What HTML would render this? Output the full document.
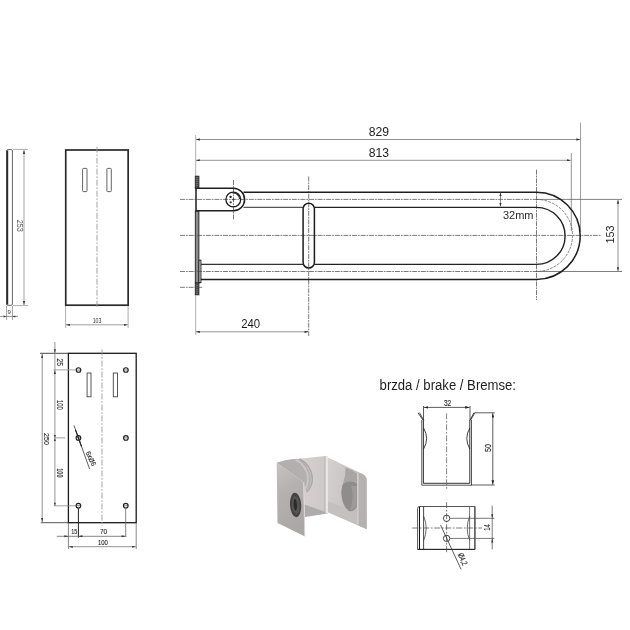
<!DOCTYPE html>
<html><head><meta charset="utf-8">
<style>
html,body{margin:0;padding:0;background:#fff;}
svg{display:block;will-change:transform;}
text{font-family:"Liberation Sans",sans-serif;}
.s{fill:#262626;stroke:#262626;stroke-width:0.12;}
</style></head>
<body>
<svg width="630" height="630" viewBox="0 0 630 630">
<defs>
<marker id="ar" viewBox="0 0 10 6" refX="10" refY="3" markerWidth="4.2" markerHeight="2.3" orient="auto-start-reverse" markerUnits="userSpaceOnUse">
<path d="M0,0 L10,3 L0,6 z" fill="#333"/>
</marker>
<marker id="as" viewBox="0 0 10 6" refX="10" refY="3" markerWidth="4" markerHeight="2.4" orient="auto-start-reverse" markerUnits="userSpaceOnUse">
<path d="M0,0 L10,3 L0,6 z" fill="#444"/>
</marker>
<marker id="ab" viewBox="0 0 10 6" refX="10" refY="3" markerWidth="4.5" markerHeight="2.6" orient="auto-start-reverse" markerUnits="userSpaceOnUse">
<path d="M0,0 L10,3 L0,6 z" fill="#222"/>
</marker>
</defs>
<rect width="630" height="630" fill="#fff"/>

<!-- ============ SIDE VIEW (thin) ============ -->
<g>
<rect x="6.6" y="149.6" width="5.8" height="155.7" rx="1.2" fill="none" stroke="#666" stroke-width="1"/>
<line x1="7.3" y1="150.5" x2="7.3" y2="304.5" stroke="#2a2a2a" stroke-width="1.8"/>
<line x1="13" y1="149.4" x2="28" y2="149.4" stroke="#999" stroke-width="0.8"/>
<line x1="13" y1="305.6" x2="28" y2="305.6" stroke="#999" stroke-width="0.8"/>
<line x1="24" y1="150" x2="24" y2="305" stroke="#999" stroke-width="0.9" marker-start="url(#as)" marker-end="url(#as)"/>
<text font-size="8.2" fill="#555" text-anchor="middle" textLength="12" lengthAdjust="spacingAndGlyphs" transform="translate(17.1,225.7) rotate(90)">253</text>
<line x1="6.6" y1="306" x2="6.6" y2="320" stroke="#888" stroke-width="0.8"/>
<line x1="12.4" y1="306" x2="12.4" y2="320" stroke="#888" stroke-width="0.8"/>
<line x1="0" y1="316.4" x2="18" y2="316.4" stroke="#777" stroke-width="0.8"/>
<path d="M6.6,316.4 l-3,-1 v2z M12.4,316.4 l3,-1 v2z" fill="#444"/>
<text fill="#333" x="9.05" y="314.3" font-size="6" text-anchor="middle">9</text>
</g>

<!-- ============ FRONT PLATE (103) ============ -->
<g>
<rect x="65.75" y="150" width="62.4" height="155.2" fill="none" stroke="#2a2a2a" stroke-width="1.7"/>
<line x1="97" y1="146.7" x2="97" y2="308" stroke="#999" stroke-width="0.9" stroke-dasharray="6,1.6,1.8,1.6"/>
<rect x="82.6" y="168.4" width="4.4" height="23.2" rx="0.8" fill="none" stroke="#555" stroke-width="0.9"/>
<rect x="106.9" y="168.4" width="4.4" height="23.2" rx="0.8" fill="none" stroke="#555" stroke-width="0.9"/>
<line x1="65.6" y1="306" x2="65.6" y2="328" stroke="#999" stroke-width="0.8"/>
<line x1="128.1" y1="306" x2="128.1" y2="328" stroke="#999" stroke-width="0.8"/>
<line x1="66" y1="324.8" x2="127.7" y2="324.8" stroke="#888" stroke-width="0.8" marker-start="url(#as)" marker-end="url(#as)"/>
<text fill="#333" x="97" y="322.7" font-size="6.6" text-anchor="middle" textLength="8.6" lengthAdjust="spacingAndGlyphs">103</text>
</g>

<!-- ============ MAIN BAR VIEW ============ -->
<g>
<!-- dims 829 / 813 -->
<line x1="195.7" y1="135" x2="195.7" y2="176" stroke="#999" stroke-width="0.8"/>
<line x1="580.5" y1="122.7" x2="580.5" y2="232" stroke="#888" stroke-width="0.8"/>
<line x1="571.3" y1="153" x2="571.3" y2="231" stroke="#777" stroke-width="0.8"/>
<line x1="196" y1="139.5" x2="580.2" y2="139.5" stroke="#888" stroke-width="0.9" marker-start="url(#ar)" marker-end="url(#ar)"/>
<line x1="196" y1="160.3" x2="570.7" y2="160.3" stroke="#888" stroke-width="0.9" marker-start="url(#ar)" marker-end="url(#ar)"/>
<text x="379" y="135.7" font-size="12" fill="#1e1e1e" text-anchor="middle" textLength="20.3" lengthAdjust="spacingAndGlyphs">829</text>
<text x="379" y="156.9" font-size="12" fill="#1e1e1e" text-anchor="middle" textLength="20.3" lengthAdjust="spacingAndGlyphs">813</text>

<!-- wall plate -->
<defs>
<pattern id="hatch" width="3.6" height="2" patternUnits="userSpaceOnUse">
<rect width="3.6" height="2" fill="#4a4a4a"/><rect y="1.2" width="3.6" height="0.8" fill="#777"/>
</pattern>
</defs>
<rect x="195.3" y="176.2" width="3.6" height="12.3" fill="url(#hatch)" stroke="#222" stroke-width="0.9"/>
<rect x="195.3" y="211" width="3.6" height="72" fill="#8c8c8c" stroke="#222" stroke-width="0.9"/>
<rect x="195.3" y="283" width="3.6" height="11.8" fill="url(#hatch)" stroke="#222" stroke-width="0.9"/>
<rect x="199" y="260.2" width="1.9" height="22.5" fill="#fff" stroke="#222" stroke-width="1"/>

<!-- centerlines -->
<g stroke="#444" stroke-width="0.7" stroke-dasharray="5,0.9,1.8,0.9" fill="none">
<line x1="180" y1="199.4" x2="537" y2="199.4"/>
<line x1="180" y1="235.4" x2="601.5" y2="235.4"/>
<line x1="180" y1="271.5" x2="537" y2="271.5"/>
<line x1="180" y1="287.3" x2="203" y2="287.3"/>
<line x1="233.5" y1="180" x2="233.5" y2="219.5"/>
<line x1="308.7" y1="176.5" x2="308.7" y2="336"/>
<line x1="536.5" y1="169.7" x2="536.5" y2="300"/>
<path d="M536.5,199.4 A36,36 0 0 1 536.5,271.4" stroke="#555" stroke-dasharray="3,1"/>
</g>
<line x1="537" y1="199.4" x2="622" y2="199.4" stroke="#555" stroke-width="0.75"/>
<line x1="537" y1="271.5" x2="622" y2="271.5" stroke="#555" stroke-width="0.75"/>

<!-- bracket -->
<path d="M196,188.3 H233.4 A11.1,11.1 0 0 1 233.4,210.7 H196 Z" fill="none" stroke="#1e1e1e" stroke-width="1.5"/>
<circle cx="233.3" cy="199.5" r="7.4" fill="none" stroke="#1e1e1e" stroke-width="1.3"/>
<path d="M232.5,193 A6.4,6.4 0 0 1 239.6,199" fill="none" stroke="#222" stroke-width="1.1"/>
<circle cx="230.6" cy="196.9" r="1.15" fill="#111"/>
<circle cx="230.7" cy="202.3" r="1.1" fill="#333"/>
<circle cx="233.4" cy="199.5" r="1" fill="#333"/>

<!-- tube -->
<path d="M243.5,192.3 H536.5 A43.7,43.55 0 0 1 536.5,279.4 H200.9" fill="none" stroke="#1e1e1e" stroke-width="1.5"/>
<path d="M243.5,207.4 H303.1" fill="none" stroke="#555" stroke-width="1.1"/>
<path d="M314.4,207.4 H536.5 A28.6,28.5 0 0 1 536.5,264.4 H314.4" fill="none" stroke="#222" stroke-width="1.4"/>
<path d="M303.1,264.35 H200.9" fill="none" stroke="#333" stroke-width="1.2"/>
<rect x="303.1" y="203.2" width="11.3" height="64.8" rx="5.65" fill="none" stroke="#1e1e1e" stroke-width="1.5"/>

<!-- 32mm -->
<line x1="500.5" y1="192.6" x2="500.5" y2="206.4" stroke="#666" stroke-width="0.8"/>
<path d="M500.5,192.6 l-1.1,3.5 h2.2z M500.5,206.4 l-1.1,-3.5 h2.2z" fill="#333"/>
<text x="503" y="219.1" font-size="11.5" fill="#2a2a2a" textLength="30.5" lengthAdjust="spacingAndGlyphs">32mm</text>

<!-- 153 -->
<line x1="618" y1="200" x2="618" y2="271" stroke="#777" stroke-width="0.8" marker-start="url(#ar)" marker-end="url(#ar)"/>
<text font-size="11.2" fill="#1e1e1e" text-anchor="middle" textLength="18" lengthAdjust="spacingAndGlyphs" transform="translate(613.9,234.6) rotate(-90)">153</text>

<!-- 240 -->
<line x1="195.7" y1="295" x2="195.7" y2="335" stroke="#999" stroke-width="0.8"/>
<line x1="196" y1="331.8" x2="308.4" y2="331.8" stroke="#888" stroke-width="0.9" marker-start="url(#ar)" marker-end="url(#ar)"/>
<text x="250.7" y="327.8" font-size="12" fill="#1e1e1e" text-anchor="middle" textLength="19" lengthAdjust="spacingAndGlyphs">240</text>
</g>

<!-- ============ MOUNTING PLATE (bottom-left) ============ -->
<g>
<rect x="68.4" y="353.3" width="67.8" height="169.4" fill="none" stroke="#1a1a1a" stroke-width="1.3"/>
<line x1="102" y1="349.5" x2="102" y2="526" stroke="#999" stroke-width="0.9" stroke-dasharray="6,1.6,1.8,1.6"/>
<rect x="87.1" y="373" width="3.9" height="23.8" fill="none" stroke="#444" stroke-width="0.9"/>
<rect x="113.3" y="373" width="4.2" height="23.8" fill="none" stroke="#444" stroke-width="0.9"/>
<!-- holes -->
<g fill="none" stroke="#1e1e1e" stroke-width="1.1">
<circle cx="78.5" cy="370" r="2.3"/><circle cx="125.9" cy="370" r="2.3"/>
<circle cx="78.4" cy="437.9" r="2.3"/><circle cx="125.9" cy="437.9" r="2.3"/>
<circle cx="78.4" cy="505.7" r="2.3"/><circle cx="125.8" cy="505.7" r="2.3"/>
</g>
<g stroke="#333" stroke-width="0.6">
<line x1="76" y1="370" x2="81.2" y2="370"/><line x1="123.2" y1="370" x2="128.4" y2="370"/>
<line x1="76" y1="437.9" x2="81.2" y2="437.9"/><line x1="123.2" y1="437.9" x2="128.4" y2="437.9"/>
<line x1="76" y1="505.7" x2="81.2" y2="505.7"/><line x1="123.2" y1="505.7" x2="128.4" y2="505.7"/>
</g>
<!-- dims left -->
<line x1="40" y1="353.3" x2="68.4" y2="353.3" stroke="#333" stroke-width="0.9"/>
<line x1="40.8" y1="522.7" x2="68.4" y2="522.7" stroke="#444" stroke-width="0.9"/>
<line x1="42.2" y1="354" x2="42.2" y2="522" stroke="#777" stroke-width="0.8" marker-start="url(#as)" marker-end="url(#as)"/>
<line x1="54.9" y1="342" x2="54.9" y2="506" stroke="#888" stroke-width="0.9"/>
<line x1="53.4" y1="369.9" x2="76" y2="369.9" stroke="#999" stroke-width="0.9"/>
<line x1="54.9" y1="437.9" x2="65.2" y2="437.9" stroke="#888" stroke-width="0.8"/>
<line x1="54" y1="505.8" x2="76" y2="505.8" stroke="#888" stroke-width="0.8"/>
<path d="M54.9,353.3 l-1,-4 h2z M54.9,370 l-1,4 h2z M54.9,437.9 l-1,-3 h2z M54.9,437.9 l-1,3 h2z M54.9,505.8 l-1,-3 h2z" fill="#333"/>
<text class="s" font-size="8.2" text-anchor="middle" textLength="7.4" lengthAdjust="spacingAndGlyphs" transform="translate(56.9,362.3) rotate(90)">25</text>
<text class="s" font-size="8.2" text-anchor="middle" textLength="9.5" lengthAdjust="spacingAndGlyphs" transform="translate(57,404.8) rotate(90)">100</text>
<text class="s" font-size="8.2" text-anchor="middle" textLength="9.2" lengthAdjust="spacingAndGlyphs" transform="translate(57,472.9) rotate(90)">100</text>
<text class="s" font-size="8" text-anchor="middle" textLength="12" lengthAdjust="spacingAndGlyphs" transform="translate(44.2,439) rotate(90)">250</text>
<!-- 6x d6 leader -->
<line x1="74" y1="425.5" x2="89.6" y2="469" stroke="#333" stroke-width="0.8"/><line x1="75.5" y1="430" x2="81.5" y2="446.5" stroke="#222" stroke-width="1.1"/>
<text class="s" font-size="7" text-anchor="middle" textLength="15" lengthAdjust="spacingAndGlyphs" transform="translate(88.7,459.5) rotate(65)">6xØ6</text>
<!-- bottom dims -->
<line x1="68.4" y1="523" x2="68.4" y2="549" stroke="#666" stroke-width="0.8"/>
<line x1="136.2" y1="523" x2="136.2" y2="549" stroke="#666" stroke-width="0.8"/>
<line x1="78.4" y1="508" x2="78.4" y2="537.6" stroke="#222" stroke-width="1"/>
<line x1="125.7" y1="508" x2="125.7" y2="536.3" stroke="#666" stroke-width="0.8"/>
<line x1="56.7" y1="536.3" x2="126.5" y2="536.3" stroke="#666" stroke-width="0.8"/>
<path d="M68.4,536.3 l-4,-1 v2z M78.4,536.3 l4,-1 v2z M125.7,536.3 l-4,-1 v2z" fill="#333"/>
<line x1="68.8" y1="546.7" x2="135.8" y2="546.7" stroke="#777" stroke-width="0.8" marker-start="url(#as)" marker-end="url(#as)"/>
<text class="s" x="74.25" y="533.9" font-size="7.7" text-anchor="middle" textLength="6.1" lengthAdjust="spacingAndGlyphs">15</text>
<text class="s" x="103.5" y="533.9" font-size="7.7" text-anchor="middle" textLength="7.2" lengthAdjust="spacingAndGlyphs">70</text>
<text class="s" x="102.9" y="544.6" font-size="7.7" text-anchor="middle" textLength="10" lengthAdjust="spacingAndGlyphs">100</text>
</g>

<!-- ============ BRAKE DRAWINGS ============ -->
<g>
<text x="379.6" y="389.6" font-size="13.8" fill="#1e1e1e" textLength="136.4" lengthAdjust="spacingAndGlyphs">brzda / brake / Bremse:</text>
<!-- front U -->
<path d="M421.8,420 V485.2 H471.5 V420" fill="none" stroke="#555" stroke-width="1"/>
<path d="M423.4,420 V483.3 H469.8 V420" fill="none" stroke="#1a1a1a" stroke-width="0.9"/>
<path d="M422.9,420 L418,412.8 M423.9,420.5 L419.5,412.6 M470.6,420 L475,412.8 M469.8,420.5 L474,412.6" stroke="#333" stroke-width="0.9"/>
<path d="M423.6,428 Q429.6,438.5 423.6,449 M469.8,428 Q463.8,438.5 469.8,449" fill="none" stroke="#2a2a2a" stroke-width="0.9"/>
<line x1="423.5" y1="406" x2="423.5" y2="420" stroke="#333" stroke-width="0.8"/>
<line x1="470" y1="406" x2="470" y2="420" stroke="#333" stroke-width="0.8"/>
<line x1="424" y1="407.4" x2="469.5" y2="407.4" stroke="#333" stroke-width="0.8" marker-start="url(#ab)" marker-end="url(#ab)"/>
<text class="s" x="447.6" y="405.7" font-size="8.2" text-anchor="middle" textLength="7.4" lengthAdjust="spacingAndGlyphs">32</text>
<line x1="446.6" y1="413.3" x2="446.6" y2="488.7" stroke="#666" stroke-width="0.8" stroke-dasharray="6,1.6,1.8,1.6"/>
<line x1="474.8" y1="412.8" x2="494.7" y2="412.8" stroke="#333" stroke-width="0.8"/>
<line x1="471" y1="485" x2="494.7" y2="485" stroke="#333" stroke-width="0.8"/>
<line x1="492.8" y1="413.2" x2="492.8" y2="484.6" stroke="#333" stroke-width="0.8" marker-start="url(#ab)" marker-end="url(#ab)"/>
<text class="s" font-size="8.9" text-anchor="middle" textLength="8.1" lengthAdjust="spacingAndGlyphs" transform="translate(490.6,448) rotate(-90)">50</text>

<!-- top view -->
<path d="M474.9,506.5 H419.5 Q417.6,506.5 417.6,508.5 V549.4 H474.9 Z" fill="none" stroke="#555" stroke-width="1"/>
<line x1="419.5" y1="506.5" x2="419.5" y2="549.4" stroke="#111" stroke-width="1"/>
<line x1="423.6" y1="506.5" x2="423.6" y2="549.4" stroke="#333" stroke-width="0.9"/>
<line x1="469.6" y1="506.5" x2="469.6" y2="549.4" stroke="#666" stroke-width="0.9"/>
<line x1="474.9" y1="506.5" x2="474.9" y2="549.4" stroke="#444" stroke-width="1"/>
<line x1="417.6" y1="549.4" x2="474.9" y2="549.4" stroke="#222" stroke-width="1"/>
<path d="M423.6,516 Q428.8,528.3 423.6,540.6 M469.8,516 Q464.6,528.3 469.8,540.6" fill="none" stroke="#444" stroke-width="0.8"/>
<line x1="412.2" y1="528" x2="482" y2="528" stroke="#555" stroke-width="0.8" stroke-dasharray="6,1.6,1.8,1.6"/>
<line x1="446.6" y1="502.2" x2="446.6" y2="553.7" stroke="#555" stroke-width="0.8" stroke-dasharray="6,1.6,1.8,1.6"/>
<circle cx="446.6" cy="518.3" r="3.2" fill="none" stroke="#333" stroke-width="0.9"/>
<circle cx="446.6" cy="538.4" r="3.2" fill="none" stroke="#333" stroke-width="0.9"/>
<line x1="450" y1="518.3" x2="494.3" y2="518.3" stroke="#555" stroke-width="0.8"/>
<line x1="450" y1="538.4" x2="494.3" y2="538.4" stroke="#555" stroke-width="0.8"/>
<line x1="492.2" y1="505.7" x2="492.2" y2="549.4" stroke="#555" stroke-width="0.8"/>
<path d="M492.2,518.3 l-1,-4 h2z M492.2,538.4 l-1,4 h2z" fill="#333"/>
<text class="s" font-size="8.4" text-anchor="middle" textLength="6.6" lengthAdjust="spacingAndGlyphs" transform="translate(490.2,527.5) rotate(-90)">14</text>
<line x1="440.5" y1="524.9" x2="461.1" y2="569.4" stroke="#333" stroke-width="0.8"/>
<text class="s" font-size="8" text-anchor="middle" textLength="12.5" lengthAdjust="spacingAndGlyphs" transform="translate(460.3,560.2) rotate(66)">Ø4,2</text>
</g>

<!-- ============ PHOTO (brake bracket) ============ -->
<g filter="url(#soft)">
<defs>
<filter id="soft" x="-10%" y="-10%" width="120%" height="120%"><feGaussianBlur stdDeviation="0.45"/></filter>
<linearGradient id="gL" x1="0" y1="0" x2="0.3" y2="1">
<stop offset="0" stop-color="#c6c2c2"/><stop offset="0.45" stop-color="#b5b1b1"/><stop offset="1" stop-color="#aba7a7"/>
</linearGradient>
<linearGradient id="gB" x1="0" y1="0" x2="1" y2="0">
<stop offset="0" stop-color="#c6c1c1"/><stop offset="0.5" stop-color="#d5cfcf"/><stop offset="1" stop-color="#cdc8c8"/>
</linearGradient>
<linearGradient id="gR" x1="0" y1="0" x2="1" y2="0.3">
<stop offset="0" stop-color="#d6d1d1"/><stop offset="0.5" stop-color="#cbc6c6"/><stop offset="1" stop-color="#bcb8b8"/>
</linearGradient>
<linearGradient id="gF" x1="0" y1="0" x2="0" y2="1">
<stop offset="0" stop-color="#b9b5b5"/><stop offset="1" stop-color="#a9a6a6"/>
</linearGradient>
</defs>
<!-- back panel -->
<polygon points="276.7,462.8 286.7,460 325.6,456.1 327.8,457 327.8,513 305,516.5 303.5,482" fill="url(#gB)"/>
<!-- dark wedge top-left of back -->
<path d="M276.7,462.8 L286.7,460 L297,458.8 C305,462 310.5,470 310.8,478 C311,484 309,488 306,491 L303.5,482 Z" fill="#b3afaf"/>
<path d="M299.5,459 C307.5,463 312.3,471 312.3,479 C312.3,485 309.8,489 306.5,492" fill="none" stroke="#aaa6a6" stroke-width="1.4"/>
<path d="M295.5,459.6 C302.5,463 307.6,470 307.9,478 C308.1,483 306.8,487 304.8,489" fill="none" stroke="#c9c5c5" stroke-width="2"/>
<!-- floor wedge under back -->
<polygon points="304.5,504.5 325.6,512 327.8,513.5 305,517" fill="#aeabab"/>
<!-- right flange -->
<path d="M327.4,457.2 L362,473.8 Q366.5,476 366.6,480 L366.6,529 L327.4,512.1 Z" fill="url(#gR)"/>
<polygon points="327.4,501 357,513 366.6,520 366.6,529 327.4,512.1" fill="#c4c0c0"/>
<path d="M345.5,467.5 C350,469 354,471 357.2,474 L357.2,506 C355,510 352,512 349.5,511 C345,509 341,500 341.5,491 C342,484 346,478 345.5,467.5 Z" fill="#a9a5a5"/><path d="M342.2,486 C344,481 352,480 357.2,484 L357.2,506 C355,510 352,512 349.5,511 C345,509 341,500 341.5,491 Z" fill="#8f8c8c"/>
<path d="M351,486 C353.5,493 353,502 350,510 C352.5,511 355,508 357,505 L357,486 Z" fill="#9d9a9a"/>
<path d="M357.2,472.5 L362,473.8 Q366.5,476 366.6,480 L366.6,529 L357.2,525 Z" fill="#b5b1b1"/><path d="M357.2,472.5 L358.5,473 L358.5,525.5 L357.2,525 Z" fill="#d6d2d2"/>
<rect x="325.4" y="456.5" width="2.6" height="57" fill="#e8e5e5"/>
<line x1="325" y1="456.5" x2="325" y2="513" stroke="#a9a5a5" stroke-width="0.6"/>
<!-- left flange front face -->
<polygon points="276.7,462.8 303.5,482 304.6,536.3 277.5,523" fill="url(#gL)"/>
<line x1="303.8" y1="482" x2="304.8" y2="536.3" stroke="#d8d4d4" stroke-width="1"/>
<ellipse cx="295.6" cy="505" rx="5.6" ry="12.2" fill="#464343" transform="rotate(-4 295.6 505)"/>
<ellipse cx="295.8" cy="505" rx="3.8" ry="9" fill="#575454" transform="rotate(-4 295.8 505)"/>
<ellipse cx="295.3" cy="504.8" rx="1.7" ry="6" fill="#2c2a2a" transform="rotate(-4 295.3 504.8)"/>
</g>

</svg>
</body></html>
